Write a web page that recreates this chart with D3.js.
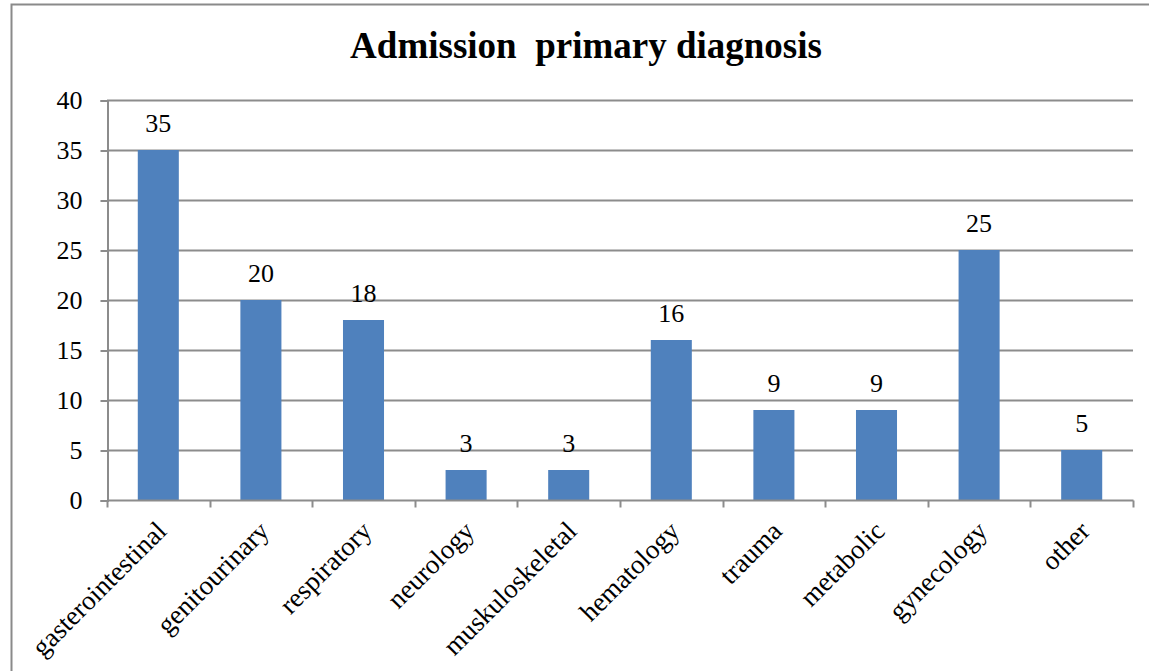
<!DOCTYPE html>
<html>
<head>
<meta charset="utf-8">
<script src="https://cdn.jsdelivr.net/npm/d3@7"></script>
<style>
  html, body { margin: 0; padding: 0; background: #fff; }
  svg { display: block; }
  text { font-family: "Liberation Serif", "Times New Roman", serif; fill: #000; }
</style>
</head>
<body>
<svg id="chart" width="1149" height="671"></svg>
<script>
// Admission primary diagnosis counts
const categories = ["gasterointestinal", "genitourinary", "respiratory", "neurology", "muskuloskeletal",
                    "hematology", "trauma", "metabolic", "gynecology", "other"];
const counts = [35, 20, 18, 3, 3, 16, 9, 9, 25, 5];
const yTicks = [0, 5, 10, 15, 20, 25, 30, 35, 40];
const title = "Admission  primary diagnosis";

const svg = d3.select("#chart");
const W = 1149, H = 671;
const plot = { left: 107, right: 1133, top: 100, bottom: 500 };
const gridColor = "#8c8c8c";
const barColor = "#4f81bd";
const serif = '"Liberation Serif", "Times New Roman", serif';

// outer chart frame
svg.append("rect")
  .attr("x", 11.5).attr("y", 4.5)
  .attr("width", W + 10).attr("height", H + 10)
  .attr("fill", "#fff").attr("stroke", "#8a8a8a").attr("stroke-width", 2);

// title
svg.append("text")
  .attr("x", 586).attr("y", 58)
  .attr("text-anchor", "middle")
  .style("font-family", serif)
  .style("font-size", "37px").style("font-weight", "bold")
  .style("white-space", "pre")
  .text(title);

const x = d3.scaleBand().domain(categories).range([plot.left, plot.right]).paddingInner(0.6).paddingOuter(0.3);
const xCell = d3.scaleBand().domain(categories).range([plot.left, plot.right]);
const y = d3.scaleLinear().domain([0, 40]).range([plot.bottom, plot.top]);

// horizontal gridlines
svg.append("g").selectAll("line").data(yTicks.filter(t => t > 0)).join("line")
  .attr("x1", plot.left).attr("x2", plot.right)
  .attr("y1", d => Math.round(y(d)) + 0.5).attr("y2", d => Math.round(y(d)) + 0.5)
  .attr("stroke", gridColor).attr("stroke-width", 2);

// y axis
const yAxis = svg.append("g")
  .attr("transform", `translate(${plot.left + 0.5},0.5)`)
  .call(d3.axisLeft(y).tickValues(yTicks).tickSize(7).tickPadding(18));
yAxis.attr("font-family", null);
yAxis.select(".domain").attr("stroke", gridColor).attr("stroke-width", 2);
yAxis.selectAll(".tick line").attr("stroke", gridColor).attr("stroke-width", 2);
yAxis.selectAll(".tick text")
  .style("font-size", "26px").style("font-family", serif).attr("fill", "#000");

// bars
svg.append("g").selectAll("rect").data(categories).join("rect")
  .attr("x", d => x(d))
  .attr("width", x.bandwidth())
  .attr("y", (d, i) => y(counts[i]))
  .attr("height", (d, i) => y(0) - y(counts[i]))
  .attr("fill", barColor);

// x axis with ticks at category boundaries
const xAxisG = svg.append("g").attr("transform", `translate(0.5,${plot.bottom + 0.5})`);
xAxisG.append("line").attr("x1", plot.left).attr("x2", plot.right)
  .attr("stroke", gridColor).attr("stroke-width", 2);
const bounds = categories.map(c => xCell(c)).concat([plot.right]);
xAxisG.selectAll("line.tick").data(bounds).join("line").attr("class", "tick")
  .attr("x1", d => Math.round(d)).attr("x2", d => Math.round(d))
  .attr("y1", 0).attr("y2", 7)
  .attr("stroke", gridColor).attr("stroke-width", 2);

// category labels, rotated
svg.append("g").selectAll("text").data(categories).join("text")
  .attr("transform", d => `translate(${xCell(d) + xCell.bandwidth() / 2 + 3},${plot.bottom + 26}) rotate(-45)`)
  .attr("text-anchor", "end")
  .attr("dy", "0.35em")
  .style("font-family", serif)
  .style("font-size", "27px")
  .text(d => d);

// value labels
svg.append("g").selectAll("text").data(categories).join("text")
  .attr("x", d => x(d) + x.bandwidth() / 2)
  .attr("y", (d, i) => y(counts[i]) - 18)
  .attr("text-anchor", "middle")
  .style("font-family", serif)
  .style("font-size", "26px")
  .text((d, i) => counts[i]);
</script>
</body>
</html>
